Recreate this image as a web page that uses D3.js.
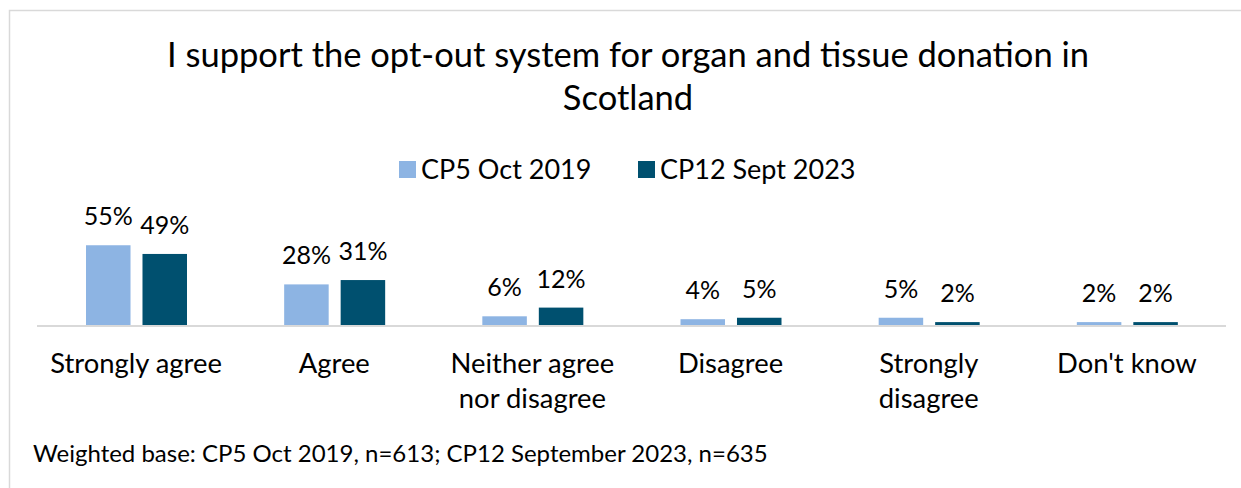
<!DOCTYPE html>
<html>
<head>
<meta charset="utf-8">
<script src="https://cdn.jsdelivr.net/npm/d3@7"></script>
<style>
  html, body { margin: 0; padding: 0; background: #fff; }
  svg { display: block; font-family: Lato, "Noto Sans", sans-serif; }
</style>
</head>
<body>
<script>
// chart data
var categories = ['Strongly agree', 'Agree', 'Neither agree nor disagree', 'Disagree', 'Strongly disagree', "Don't know"];
var categoryLines = [['Strongly agree'], ['Agree'], ['Neither agree', 'nor disagree'], ['Disagree'], ['Strongly', 'disagree'], ["Don't know"]];
var seriesNames = ['CP5 Oct 2019', 'CP12 Sept 2023'];
var oct2019 = [55, 28, 6, 4, 5, 2];
var sept2023 = [49, 31, 12, 5, 2, 2];
var colors = ['#8db4e3', '#00506f'];
var titleLines = ['I support the opt-out system for organ and tissue donation in', 'Scotland'];
var footnote = 'Weighted base: CP5 Oct 2019, n=613; CP12 September 2023, n=635';

var W = 1241, H = 488;
var svg = d3.select('body').append('svg')
    .attr('width', W)
    .attr('height', H);

// chart frame (goes off the page right and bottom)
svg.append('rect')
    .attr('x', 9.5).attr('y', 10.5)
    .attr('width', 1400).attr('height', 700)
    .attr('fill', '#fff')
    .attr('stroke', '#d9d9d9')
    .attr('stroke-width', 1.5);

// title
svg.append('text')
    .attr('text-anchor', 'middle')
    .attr('font-size', 34.5)
    .attr('fill', '#000')
    .selectAll('tspan')
    .data(titleLines).enter()
    .append('tspan')
    .attr('x', 628)
    .attr('y', function(d, i){ return 67 + i * 43; })
    .text(function(d){ return d; });

// scales
var x = d3.scaleBand()
    .domain(categories)
    .range([37, 1226]);

var xs = d3.scaleBand()
    .domain(seriesNames)
    .range([49, 150])
    .paddingInner(0.212);

var y = d3.scaleLinear()
    .domain([0, 60])
    .range([325, 325 - 87]);

// legend
var legendX = [399, 638];
var legend = svg.selectAll('g.legend')
    .data(seriesNames).enter()
    .append('g')
    .attr('class', 'legend')
    .attr('transform', function(d, i){ return 'translate(' + legendX[i] + ',0)'; });
legend.append('rect')
    .attr('x', 0).attr('y', 161)
    .attr('width', 17).attr('height', 17)
    .attr('fill', function(d, i){ return colors[i]; });
legend.append('text')
    .attr('x', 22).attr('y', 179)
    .attr('font-size', 27)
    .attr('fill', '#000')
    .text(function(d){ return d; });

// bars
var series = [oct2019, sept2023];
series.forEach(function(values, s){
    var g = svg.append('g');
    g.selectAll('rect')
        .data(values).enter()
        .append('rect')
        .attr('x', function(d, i){ return x(categories[i]) + xs(seriesNames[s]); })
        .attr('y', function(d){ return y(d); })
        .attr('width', xs.bandwidth())
        .attr('height', function(d){ return y(0) - y(d); })
        .attr('fill', colors[s]);
    g.selectAll('text')
        .data(values).enter()
        .append('text')
        .attr('x', function(d, i){ return x(categories[i]) + xs(seriesNames[s]) + xs.bandwidth() / 2; })
        .attr('y', function(d){ return y(d) - 20; })
        .attr('text-anchor', 'middle')
        .attr('font-size', 25)
        .attr('fill', '#000')
        .text(function(d){ return d + '%'; });
});

// category axis
svg.append('line')
    .attr('x1', x.range()[0]).attr('x2', x.range()[1])
    .attr('y1', y(0) + 1).attr('y2', y(0) + 1)
    .attr('stroke', '#d9d9d9')
    .attr('stroke-width', 2);

svg.selectAll('text.cat')
    .data(categories).enter()
    .append('text')
    .attr('class', 'cat')
    .attr('text-anchor', 'middle')
    .attr('font-size', 27.4)
    .attr('fill', '#000')
    .each(function(d, i){
        d3.select(this).selectAll('tspan')
            .data(categoryLines[i]).enter()
            .append('tspan')
            .attr('x', x(d) + x.bandwidth() / 2)
            .attr('y', function(t, j){ return 373 + j * 35; })
            .text(function(t){ return t; });
    });

// footnote
svg.append('text')
    .attr('x', 33).attr('y', 462)
    .attr('font-size', 24)
    .attr('fill', '#000')
    .text(footnote);
</script>
</body>
</html>
